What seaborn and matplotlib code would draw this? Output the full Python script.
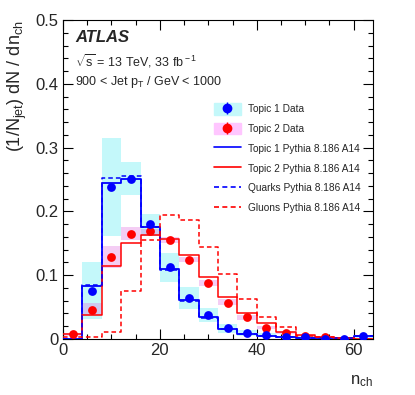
import numpy as np
import pandas as pd
import matplotlib
matplotlib.use("Agg")
import matplotlib.pyplot as plt
from matplotlib.lines import Line2D
from matplotlib.patches import Patch
from matplotlib.ticker import MultipleLocator
import seaborn as sns

# bin centres of n_ch (bins of width 4 from 0 to 64)
centers = np.arange(2, 64, 4)

# data points
topic1_data = [0.0, 0.076, 0.238, 0.251, 0.180, 0.113, 0.065, 0.037, 0.018,
               0.0094, 0.0063, 0.003, 0.0025, 0.0005, 0.0005, 0.004]
topic2_data = [0.0078, 0.045, 0.128, 0.165, 0.169, 0.155, 0.124, 0.088, 0.057,
               0.034, 0.0177, 0.0094, 0.0047, 0.003, 0.0008, 0.0005]

# systematic bands (low, high)
topic1_lo = [0.0, 0.031, 0.162, 0.226, 0.162, 0.090, 0.047, 0.026, 0.010,
             0.005, 0.003, 0.001, 0.001, 0.0, 0.0, 0.002]
topic1_hi = [0.001, 0.120, 0.315, 0.277, 0.196, 0.135, 0.082, 0.049, 0.024,
             0.014, 0.010, 0.005, 0.004, 0.002, 0.002, 0.006]
topic2_lo = [0.005, 0.038, 0.111, 0.155, 0.162, 0.150, 0.120, 0.083, 0.054,
             0.030, 0.015, 0.008, 0.004, 0.002, 0.0, 0.0]
topic2_hi = [0.010, 0.056, 0.145, 0.175, 0.173, 0.160, 0.129, 0.092, 0.062,
             0.038, 0.021, 0.011, 0.006, 0.004, 0.002, 0.001]

# Pythia predictions
topic1_mc = [0.0, 0.0835, 0.245, 0.251, 0.1755, 0.110, 0.0605, 0.0345, 0.016,
             0.008, 0.005, 0.0025, 0.002, 0.001, 0.001, 0.004]
topic2_mc = [0.008, 0.037, 0.114, 0.151, 0.163, 0.157, 0.132, 0.097, 0.066,
             0.040, 0.025, 0.011, 0.0057, 0.003, 0.0013, 0.0005]
quarks_mc = [0.0, 0.085, 0.252, 0.256, 0.175, 0.108, 0.059, 0.033, 0.015,
             0.008, 0.005, 0.0025, 0.002, 0.001, 0.001, 0.004]
gluons_mc = [0.003, 0.003, 0.0104, 0.076, 0.1545, 0.195, 0.186, 0.144, 0.102,
             0.063, 0.034, 0.019, 0.005, 0.003, 0.001, 0.0]

sns.set_style("ticks")
plt.rcParams['font.family'] = ['Liberation Sans', 'DejaVu Sans']
plt.rcParams['mathtext.fontset'] = 'custom'
plt.rcParams['mathtext.rm'] = 'Liberation Sans'
plt.rcParams['mathtext.it'] = 'Liberation Sans:italic'

fig = plt.figure(figsize=(4.15, 3.95), dpi=100)
ax = fig.add_axes([63/415, 56/395, 310/415, 319/395])

width = 4
cyan = '#c4f8fa'
pink = '#ffc6ff'

# bands
ax.bar(centers, np.array(topic1_hi) - np.array(topic1_lo), bottom=topic1_lo,
       width=width, color=cyan, linewidth=0, zorder=1)
ax.bar(centers, np.array(topic2_hi) - np.array(topic2_lo), bottom=topic2_lo,
       width=width, color='#e070e0', alpha=0.35, linewidth=0, zorder=2)

df = pd.DataFrame({"nch": centers, "t1": topic1_mc, "t2": topic2_mc,
                   "q": quarks_mc, "g": gluons_mc})

hist_kw = dict(data=df, x="nch", binwidth=4, binrange=(0, 64), element="step",
               fill=False, ax=ax, zorder=3)
sns.histplot(weights="t1", color="#0000ff", linewidth=1.3, **hist_kw)
sns.histplot(weights="t2", color="#ff0000", linewidth=1.1, **hist_kw)
sns.histplot(weights="q", color="#0000ff", linewidth=1.1,
             linestyle=(0, (3, 2)), **hist_kw)
sns.histplot(weights="g", color="#ff0000", linewidth=1.1,
             linestyle=(0, (3, 2)), **hist_kw)

pts = pd.DataFrame({"nch": centers, "t1": topic1_data, "t2": topic2_data})
sns.scatterplot(data=pts[pts.t2 > 0.001], x="nch", y="t2", color="#ff0000",
                s=40, linewidth=0, ax=ax, zorder=4)
sns.scatterplot(data=pts[pts.t1 > 0], x="nch", y="t1", color="#0000ff",
                s=40, linewidth=0, ax=ax, zorder=5)

ax.set_xlim(0, 64)
ax.set_ylim(0, 0.5)
ax.xaxis.set_major_locator(MultipleLocator(20))
ax.xaxis.set_minor_locator(MultipleLocator(5))
ax.yaxis.set_major_locator(MultipleLocator(0.1))
ax.yaxis.set_minor_locator(MultipleLocator(0.02))
ax.set_yticks([0, 0.1, 0.2, 0.3, 0.4, 0.5])
ax.set_yticklabels(['0', '0.1', '0.2', '0.3', '0.4', '0.5'])
ax.tick_params(which='both', direction='in', top=True, right=True,
               labelsize=12, color='black', width=0.8)
ax.tick_params(which='major', length=7, pad=3)
ax.tick_params(which='minor', length=3.5)
for s in ax.spines.values():
    s.set_linewidth(0.8)
    s.set_color('black')

ax.set_xlabel(r'n$_{\rm ch}$', fontsize=12, loc='right', labelpad=11)
ax.set_ylabel(r'(1/N$_{\rm jet}$) dN / dn$_{\rm ch}$', fontsize=13, loc='top',
              labelpad=5)

ax.text(0.04, 0.945, 'ATLAS', transform=ax.transAxes, fontsize=12,
        fontweight='bold', style='italic', va='center')
ax.text(0.04, 0.87, r'$\sqrt{\rm s}$ = 13 TeV, 33 fb$^{\rm -1}$',
        transform=ax.transAxes, fontsize=9, va='center')
ax.text(0.04, 0.805, r'900 < Jet p$_{\rm T}$ / GeV < 1000',
        transform=ax.transAxes, fontsize=9, va='center')

handles = [
    (Patch(color=cyan), Line2D([], [], color='#0000ff', marker='|', ms=9, ls=''),
     Line2D([], [], color='#0000ff', marker='o', ms=6, ls='')),
    (Patch(color=pink), Line2D([], [], color='#ff0000', marker='|', ms=9, ls=''),
     Line2D([], [], color='#ff0000', marker='o', ms=6, ls='')),
    Line2D([], [], color='#0000ff', lw=1.2),
    Line2D([], [], color='#ff0000', lw=1.2),
    Line2D([], [], color='#0000ff', lw=1.2, ls=(0, (3, 2))),
    Line2D([], [], color='#ff0000', lw=1.2, ls=(0, (3, 2))),
]
labels = ['Topic 1 Data', 'Topic 2 Data', 'Topic 1 Pythia 8.186 A14',
          'Topic 2 Pythia 8.186 A14', 'Quarks Pythia 8.186 A14',
          'Gluons Pythia 8.186 A14']
ax.legend(handles, labels, loc='upper left', bbox_to_anchor=(0.474, 0.751),
          frameon=False, fontsize=7.3, handlelength=2.66, handleheight=1.3,
          labelspacing=0.86, handletextpad=0.69, borderaxespad=0)

fig.savefig("out.png", dpi=100)
plt.close()
